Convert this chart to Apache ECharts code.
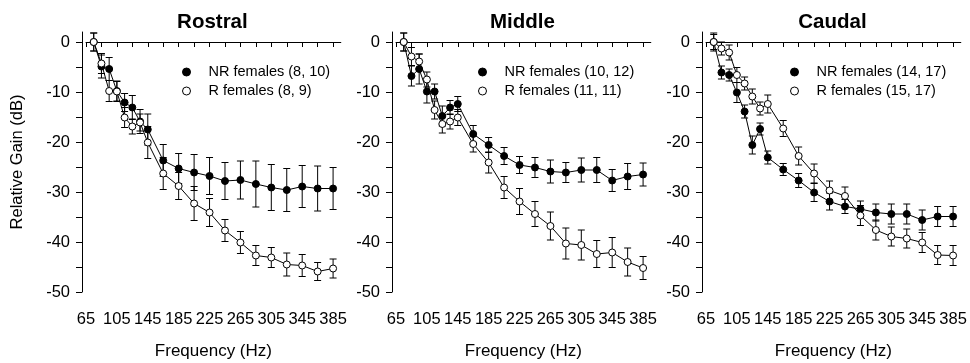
<!DOCTYPE html>
<html><head><meta charset="utf-8">
<script src="https://cdn.jsdelivr.net/npm/echarts@6/dist/echarts.min.js"></script>
<style>html,body{margin:0;padding:0;background:#fff}#c{width:970px;height:363px}</style>
</head><body><div id="c"></div>
<script>
const freqs = [75,85,95,105,115,125,135,145,165,185,205,225,245,265,285,305,325,345,365,385];
const xTicks = [65,85,105,125,145,165,185,205,225,245,265,285,305,325,345,365,385];
const xLabels = [65,105,145,185,225,265,305,345,385];
const yTicks = [-50,-45,-40,-35,-30,-25,-20,-15,-10,-5,0];
const yLabels = [-50,-40,-30,-20,-10,0];
const panelTitles = ['Rostral','Middle','Caudal'];
const nrNames = ['NR females (8, 10)','NR females (10, 12)','NR females (14, 17)'];
const rNames = ['R females (8, 9)','R females (11, 11)','R females (15, 17)'];

const rostralNR    = [0,-4.9,-5.4,-9.8,-12.1,-13.1,-15.9,-17.5,-23.7,-25.3,-26.1,-26.8,-27.8,-27.6,-28.4,-29.1,-29.6,-28.9,-29.3,-29.3];
const rostralNRErr = [1.8,2.3,2.3,2.0,1.8,2.4,2.4,3.1,3.2,3.0,3.6,3.7,3.7,3.8,4.6,4.6,4.3,4.2,4.5,4.2];
const rostralR     = [0,-4.3,-9.8,-9.9,-15.1,-16.9,-16.1,-20.1,-26.3,-28.8,-32.3,-34.1,-37.7,-40.1,-42.7,-43.1,-44.5,-44.7,-45.9,-45.3];
const rostralRErr  = [1.8,2.0,2.1,2.0,2.0,1.5,1.7,3.2,3.2,2.7,3.4,2.8,2.2,2.2,2.0,2.0,2.3,2.2,1.8,1.9];

const middleNR     = [0,-6.8,-5.4,-9.9,-9.9,-14.8,-13.1,-12.4,-18.4,-20.6,-22.8,-24.6,-25.1,-25.9,-26.1,-25.6,-25.6,-27.7,-26.9,-26.5];
const middleNRErr  = [1.8,2.0,3.0,2.3,1.5,2.0,1.4,1.5,1.7,1.5,1.7,1.7,2.0,2.3,2.0,2.4,2.5,2.2,2.6,2.3];
const middleR      = [0,-2.9,-3.9,-7.5,-13.6,-16.4,-15.9,-15.1,-20.4,-24.1,-29.1,-31.9,-34.4,-36.8,-40.3,-40.6,-42.4,-42.1,-44.0,-45.2];
const middleRErr   = [1.8,1.8,1.5,1.5,1.8,1.8,1.5,1.6,1.6,2.1,2.2,2.6,2.5,2.8,3.1,3.0,2.7,3.0,2.8,2.3];

const caudalNR     = [0,-6.1,-6.6,-10.1,-13.9,-20.6,-17.4,-23.1,-25.5,-27.7,-30.1,-31.9,-32.9,-33.4,-34.1,-34.4,-34.4,-35.6,-34.9,-34.9];
const caudalNRErr  = [1.8,1.3,1.2,2.0,1.3,1.8,1.2,1.3,1.2,1.4,1.8,1.7,1.4,1.6,1.7,2.0,2.0,2.0,2.0,2.0];
const caudalR      = [0,-1.3,-2.1,-6.6,-8.3,-10.9,-13.3,-12.4,-17.3,-22.8,-26.3,-29.7,-30.8,-34.7,-37.6,-38.9,-39.3,-40.1,-42.6,-42.7];
const caudalRErr   = [1.5,1.3,1.5,1.5,1.3,1.5,1.3,1.8,1.6,1.8,1.9,1.9,1.8,2.0,2.0,1.9,1.9,2.0,1.9,2.0];

const panels = [
  {nr: rostralNR, nrErr: rostralNRErr, r: rostralR, rErr: rostralRErr},
  {nr: middleNR, nrErr: middleNRErr, r: middleR, rErr: middleRErr},
  {nr: caudalNR, nrErr: caudalNRErr, r: caudalR, rErr: caudalRErr}
];

const FONT = '"Liberation Sans", Arial, sans-serif';
const gridLefts = [86, 396, 706];
const gridW = 254.8;
const legendLefts = [182, 478, 790];

function errRender(params, api) {
  const x = api.value(0), lo = api.value(1), hi = api.value(2);
  const a = api.coord([x, hi]), b = api.coord([x, lo]);
  const w = 3.5;
  const st = {stroke: '#000', lineWidth: 1};
  return {type: 'group', children: [
    {type: 'line', shape: {x1: a[0], y1: a[1], x2: b[0], y2: b[1]}, style: st},
    {type: 'line', shape: {x1: a[0]-w, y1: a[1], x2: a[0]+w, y2: a[1]}, style: st},
    {type: 'line', shape: {x1: b[0]-w, y1: b[1], x2: b[0]+w, y2: b[1]}, style: st}
  ]};
}

const option = {animation: false, title: [], grid: [], xAxis: [], yAxis: [], legend: [], series: []};

panels.forEach((p, i) => {
  option.grid.push({left: gridLefts[i], width: gridW, top: 32, height: 260, containLabel: false, outerBoundsMode: 'none'});
  option.title.push({text: panelTitles[i], left: gridLefts[i] + gridW/2 - 1, top: 12, textAlign: 'center', padding: 0,
    textStyle: {fontFamily: FONT, fontSize: 20.5, fontWeight: 'bold', color: '#000'}});
  option.xAxis.push({type: 'value', gridIndex: i, min: 65, max: 395, offset: 4,
    name: 'Frequency (Hz)', nameLocation: 'middle', nameGap: 47,
    nameTextStyle: {fontFamily: FONT, fontSize: 17, color: '#000'},
    axisLine: {show: true, lineStyle: {color: '#000', width: 1}},
    axisTick: {show: true, length: 5, customValues: xTicks, lineStyle: {color: '#000'}},
    axisLabel: {customValues: xLabels, margin: 15, fontFamily: FONT, fontSize: 16.5, color: '#000'},
    splitLine: {show: false}});
  option.yAxis.push({type: 'value', gridIndex: i, min: -50, max: 2, offset: 4,
    name: i === 0 ? 'Relative Gain (dB)' : '', nameLocation: 'middle', nameGap: 56,
    nameTextStyle: {fontFamily: FONT, fontSize: 16.5, color: '#000'},
    axisLine: {show: true, lineStyle: {color: '#000', width: 1}},
    axisTick: {show: true, length: 6, customValues: yTicks, lineStyle: {color: '#000'}},
    axisLabel: {customValues: yLabels, margin: 12, fontFamily: FONT, fontSize: 16.5, color: '#000'},
    splitLine: {show: false}});
  option.legend.push({orient: 'vertical', left: legendLefts[i], top: 64, itemWidth: 8, itemHeight: 8, itemGap: 3,
    icon: 'circle', padding: 0,
    textStyle: {fontFamily: FONT, fontSize: 14.5, color: '#000', lineHeight: 16, padding: [0, 0, 0, 13]},
    data: [
      {name: nrNames[i], itemStyle: {color: '#000', borderColor: '#000', borderWidth: 1}},
      {name: rNames[i], itemStyle: {color: '#fff', borderColor: '#000', borderWidth: 1}}
    ]});
  const errNR = freqs.map((f, k) => [f, p.nr[k] - p.nrErr[k], p.nr[k] + p.nrErr[k]]);
  const errR = freqs.map((f, k) => [f, p.r[k] - p.rErr[k], p.r[k] + p.rErr[k]]);
  option.series.push({type: 'custom', name: 'errNR' + i, xAxisIndex: i, yAxisIndex: i, z: 1,
    renderItem: errRender, encode: {x: 0, y: [1, 2]}, data: errNR});
  option.series.push({type: 'custom', name: 'errR' + i, xAxisIndex: i, yAxisIndex: i, z: 1,
    renderItem: errRender, encode: {x: 0, y: [1, 2]}, data: errR});
  option.series.push({type: 'line', name: nrNames[i], xAxisIndex: i, yAxisIndex: i, z: 3,
    data: freqs.map((f, k) => [f, p.nr[k]]), symbol: 'circle', symbolSize: 7,
    lineStyle: {color: '#000', width: 1}, itemStyle: {color: '#000', borderColor: '#000', borderWidth: 1}});
  option.series.push({type: 'line', name: rNames[i], xAxisIndex: i, yAxisIndex: i, z: 4,
    data: freqs.map((f, k) => [f, p.r[k]]), symbol: 'circle', symbolSize: 7,
    lineStyle: {color: '#000', width: 1}, itemStyle: {color: '#fff', borderColor: '#000', borderWidth: 1}});
});

const chart = echarts.init(document.getElementById('c'), null, {renderer: 'canvas'});
chart.setOption(option);
</script>
</body></html>
